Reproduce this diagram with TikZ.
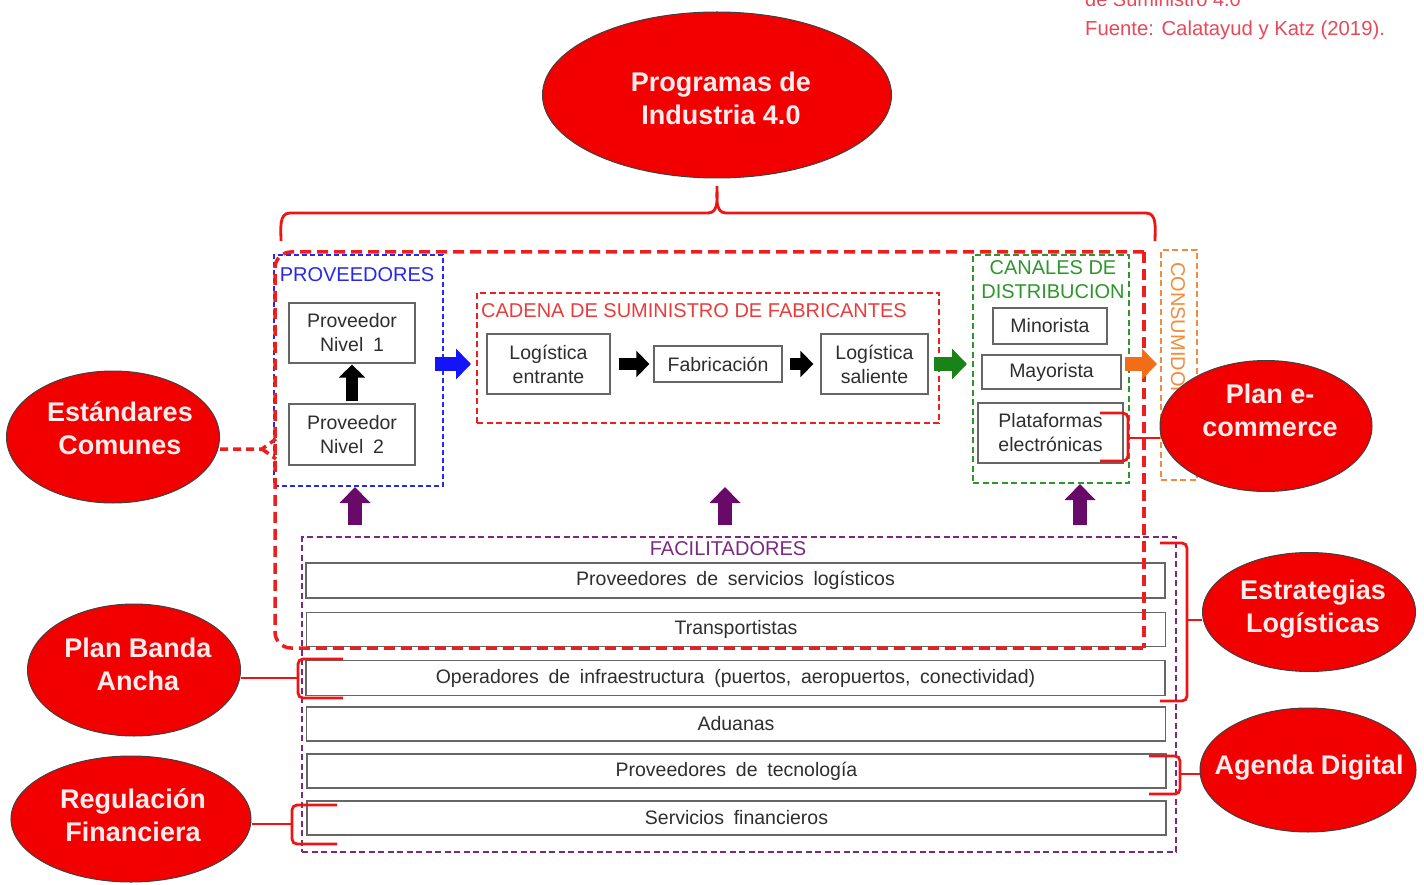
\documentclass[tikz,border=0pt]{standalone}
\usepackage{fontspec}
\setmainfont{Liberation Sans}
\usetikzlibrary{shapes.geometric,arrows.meta,calc}
\definecolor{ellred}{RGB}{242,0,0}
\definecolor{brred}{RGB}{238,20,20}
\definecolor{dashred}{RGB}{236,30,30}
\definecolor{lblred}{RGB}{232,60,60}
\definecolor{dblue}{RGB}{40,40,235}
\definecolor{dgreen}{RGB}{45,150,45}
\definecolor{dorange}{RGB}{240,140,60}
\definecolor{dpurple}{RGB}{122,40,130}
\definecolor{apurple}{RGB}{105,10,105}
\definecolor{agreen}{RGB}{25,130,25}
\definecolor{aorange}{RGB}{240,110,25}
\definecolor{ablue}{RGB}{20,20,250}
\definecolor{fuente}{RGB}{232,72,88}
\definecolor{ellfg}{RGB}{255,236,236}
\newcommand\bodyfnt{\fontsize{19.5}{24}\selectfont\spaceskip=0.5em plus 0.1em\relax}
\newcommand\lblfnt{\fontsize{20}{24}\selectfont}
\newcommand\ellfnt{\bfseries\fontsize{27}{33}\selectfont}
\begin{document}
\begin{tikzpicture}[x=1pt,y=-1pt,
  ell/.style={ellipse,fill=ellred,draw=black!75,line width=1pt,inner sep=0pt},
  elltxt/.style={text=ellfg,font=\ellfnt,align=center,inner sep=0pt},
  box/.style={draw=black!60,line width=1.3pt,fill=white,text=black!82,font=\bodyfnt,align=center,inner sep=0pt},
  pbox/.style={draw=dpurple,line width=2pt,dash pattern=on 6pt off 3.5pt,inner sep=0pt},
  bbox/.style={draw=dblue,line width=2pt,dash pattern=on 5pt off 3pt,inner sep=0pt},
  gbox/.style={draw=dgreen,line width=2pt,dash pattern=on 6pt off 3.5pt,inner sep=0pt},
  obox/.style={draw=dorange,line width=2pt,dash pattern=on 6pt off 3.5pt,inner sep=0pt},
  rbox/.style={draw=dashred,line width=2pt,dash pattern=on 6pt off 3.5pt,inner sep=0pt},
  lbl/.style={font=\lblfnt,inner sep=0pt},
  bigdash/.style={draw=dashred,line width=3.5pt,dash pattern=on 11pt off 6pt},
  br/.style={draw=brred,line width=2.8pt},
  barr/.style={line width=14pt,-{Triangle[length=15pt,width=30pt]}},
  karr/.style={line width=12pt,-{Triangle[length=13pt,width=26pt]}},
  parr/.style={line width=14pt,-{Triangle[length=16pt,width=30pt]},draw=apurple}
]
\useasboundingbox (0,0) rectangle (1424,885);

% source text (top right)
\node[anchor=base west,text=fuente,font=\fontsize{20}{24}\selectfont,inner sep=0pt] (src1) at (1085,7) {de Suministro 4.0};
\node[anchor=base west,text=fuente,font=\fontsize{20.3}{24}\selectfont,inner sep=0pt] (src2) at (1085,36) {Fuente: Calatayud y Katz (2019).};

% FACILITADORES
\node[pbox,minimum width=874,minimum height=315] (facil) at (739,694.5) {};
\node[lbl,text=dpurple] (facilt) at (728,549) {FACILITADORES};
\node[box,minimum width=859,minimum height=35] (r1) at (735.5,580.5) {Proveedores de servicios logísticos};
\node[box,minimum width=859,minimum height=34] (r2) at (736,629.5) {Transportistas};
\node[box,minimum width=859,minimum height=35] (r3) at (735.5,678) {Operadores de infraestructura (puertos, aeropuertos, conectividad)};
\node[box,minimum width=859,minimum height=34] (r4) at (736,724) {Aduanas};
\node[box,minimum width=859,minimum height=34] (r5) at (736.5,771) {Proveedores de tecnología};
\node[box,minimum width=859,minimum height=34] (r6) at (736.5,818) {Servicios financieros};

% PROVEEDORES
\node[bbox,minimum width=169,minimum height=231] (prov) at (358.5,370.5) {};
\node[lbl,text=dblue] (provt) at (357,275) {PROVEEDORES};
\node[box,minimum width=126,minimum height=60] (pn1) at (352,333) {Proveedor\\Nivel 1};
\node[box,minimum width=126,minimum height=61] (pn2) at (352,434.5) {Proveedor\\Nivel 2};

% CADENA
\node[rbox,minimum width=462,minimum height=130] (cad) at (708,358) {};
\node[lbl,text=lblred,anchor=west] (cadt) at (481,311) {CADENA DE SUMINISTRO DE FABRICANTES};
\node[box,minimum width=123,minimum height=60] (le) at (548.5,364) {Logística\\entrante};
\node[box,minimum width=128,minimum height=36] (fab) at (718,364) {Fabricación};
\node[box,minimum width=107,minimum height=60] (ls) at (874.5,364) {Logística\\saliente};

% CANALES
\node[gbox,minimum width=156,minimum height=228] (can) at (1051,369) {};
\node[lbl,text=dgreen,align=center,font=\fontsize{20}{24}\selectfont] (cant) at (1053,280) {CANALES DE\\DISTRIBUCION};
\node[box,minimum width=114,minimum height=36] (mino) at (1050,326) {Minorista};
\node[box,minimum width=139,minimum height=34] (mayo) at (1051.5,372) {Mayorista};
\node[box,minimum width=145,minimum height=60] (plat) at (1050.5,433) {Plataformas\\electrónicas};

% CONSUMIDOR
\node[obox,minimum width=36,minimum height=230] (cons) at (1179,365) {};
\node[lbl,text=dorange,rotate=-90,anchor=west] (const) at (1178,262) {CONSUMIDOR};

% big red dashed region
\draw[bigdash,rounded corners=16] (1144,252) -- (275,252) -- (275,648) -- (1144,648);
\draw[bigdash] (1144,252) -- (1144,648);

% block arrows
\coordinate (ba1) at (435,364);
\draw[barr,draw=ablue] (ba1) -- (cad.west |- ba1) [shorten >=5pt];
\draw[karr,draw=black,shorten <=8pt,shorten >=4pt] (le.east) -- (fab.west);
\draw[karr,draw=black,shorten <=7pt,shorten >=7pt] (fab.east) -- (ls.west);
\draw[barr,draw=agreen,shorten <=5pt,shorten >=5pt] (ls.east) -- (can.west |- ls.east);
\coordinate (oa1) at (1125,364);
\draw[barr,draw=aorange,shorten >=3pt] (oa1) -- (cons.west |- oa1);
\draw[karr,draw=black,shorten <=2pt,shorten >=1pt] (pn2.north) -- (pn1.south);
\coordinate (pu1) at (355,525);
\coordinate (pu2) at (725,525);
\coordinate (pu3) at (1080,525);
\draw[parr] (pu1) -- (pu1 |- prov.south);
\draw[parr] (pu2) -- (pu2 |- prov.south);
\draw[parr] (pu3) -- (pu3 |- can.south);

% brackets
\coordinate (tbL) at (281,241);
\coordinate (tbR) at (1155,241);
\coordinate (tbP) at (717,186);
\draw[br] (tbL) to[out=90,in=180] (290,213) -- (708,213) to[out=0,in=-90] (tbP) to[out=-90,in=180] (726,213) -- (1146,213) to[out=0,in=90] (tbR);

\coordinate (ej) at (262,449);
\coordinate (ej1) at (276,439);
\coordinate (ej2) at (276,459);
\coordinate (bE) at (1128,438);
\coordinate (bS) at (1187,620);
\coordinate (bA) at (1180,774);
\coordinate (bB) at (298,678);
\coordinate (bR) at (292,824);

% Plataformas bracket
\draw[br,rounded corners=5] (1100,413) -- (1128,413) -- (1128,461) -- (1100,461);
% Estrategias bracket
\draw[br,rounded corners=5] (1160,543) -- (1187,543) -- (1187,701) -- (1160,701);
% Agenda bracket
\draw[br,rounded corners=5] (1149,756) -- (1180,756) -- (1180,794) -- (1149,794);
% Plan Banda bracket
\draw[br,rounded corners=5] (343,659) -- (298,659) -- (298,698) -- (343,698);
% Regulacion bracket
\draw[br,rounded corners=5] (337,805) -- (292,805) -- (292,844) -- (337,844);

% ellipses
\node[ell,minimum width=349,minimum height=166] (prog) at (717,95) {};
\node[elltxt] (progt) at (721,98) {Programas de\\Industria 4.0};
\node[ell,minimum width=213,minimum height=132] (estd) at (113,437) {};
\node[elltxt] (estdt) at (120,428) {Estándares\\Comunes};
\node[ell,minimum width=212,minimum height=131] (ecom) at (1266,426) {};
\node[elltxt] (ecomt) at (1270,410) {Plan e-\\commerce};
\node[ell,minimum width=213,minimum height=119] (estr) at (1309,612) {};
\node[elltxt] (estrt) at (1313,609) {Estrategias\\Logísticas};
\node[ell,minimum width=216,minimum height=124] (agen) at (1308,770) {};
\node[elltxt] (agent) at (1309,768) {Agenda Digital};
\node[ell,minimum width=213,minimum height=132] (band) at (134,670) {};
\node[elltxt] (bandt) at (138,664) {Plan Banda\\Ancha};
\node[ell,minimum width=240,minimum height=126] (regu) at (131,819) {};
\node[elltxt] (regut) at (133,815) {Regulación\\Financiera};

% ticks from brackets to ellipses
\draw[br] (bE) -- (ecom.west |- bE);
\draw[br] (bS) -- (estr.west |- bS);
\draw[br] (bA) -- (agen.west |- bA);
\draw[br] (bB) -- (band.east |- bB);
\draw[br] (bR) -- (regu.east |- bR);
\draw[bigdash,line width=3.5pt,dash pattern=on 8pt off 5pt] (estd.east |- ej) -- (ej) -- (ej1);
\draw[bigdash,line width=3.5pt,dash pattern=on 8pt off 5pt] (ej) -- (ej2);
\end{tikzpicture}
\end{document}
